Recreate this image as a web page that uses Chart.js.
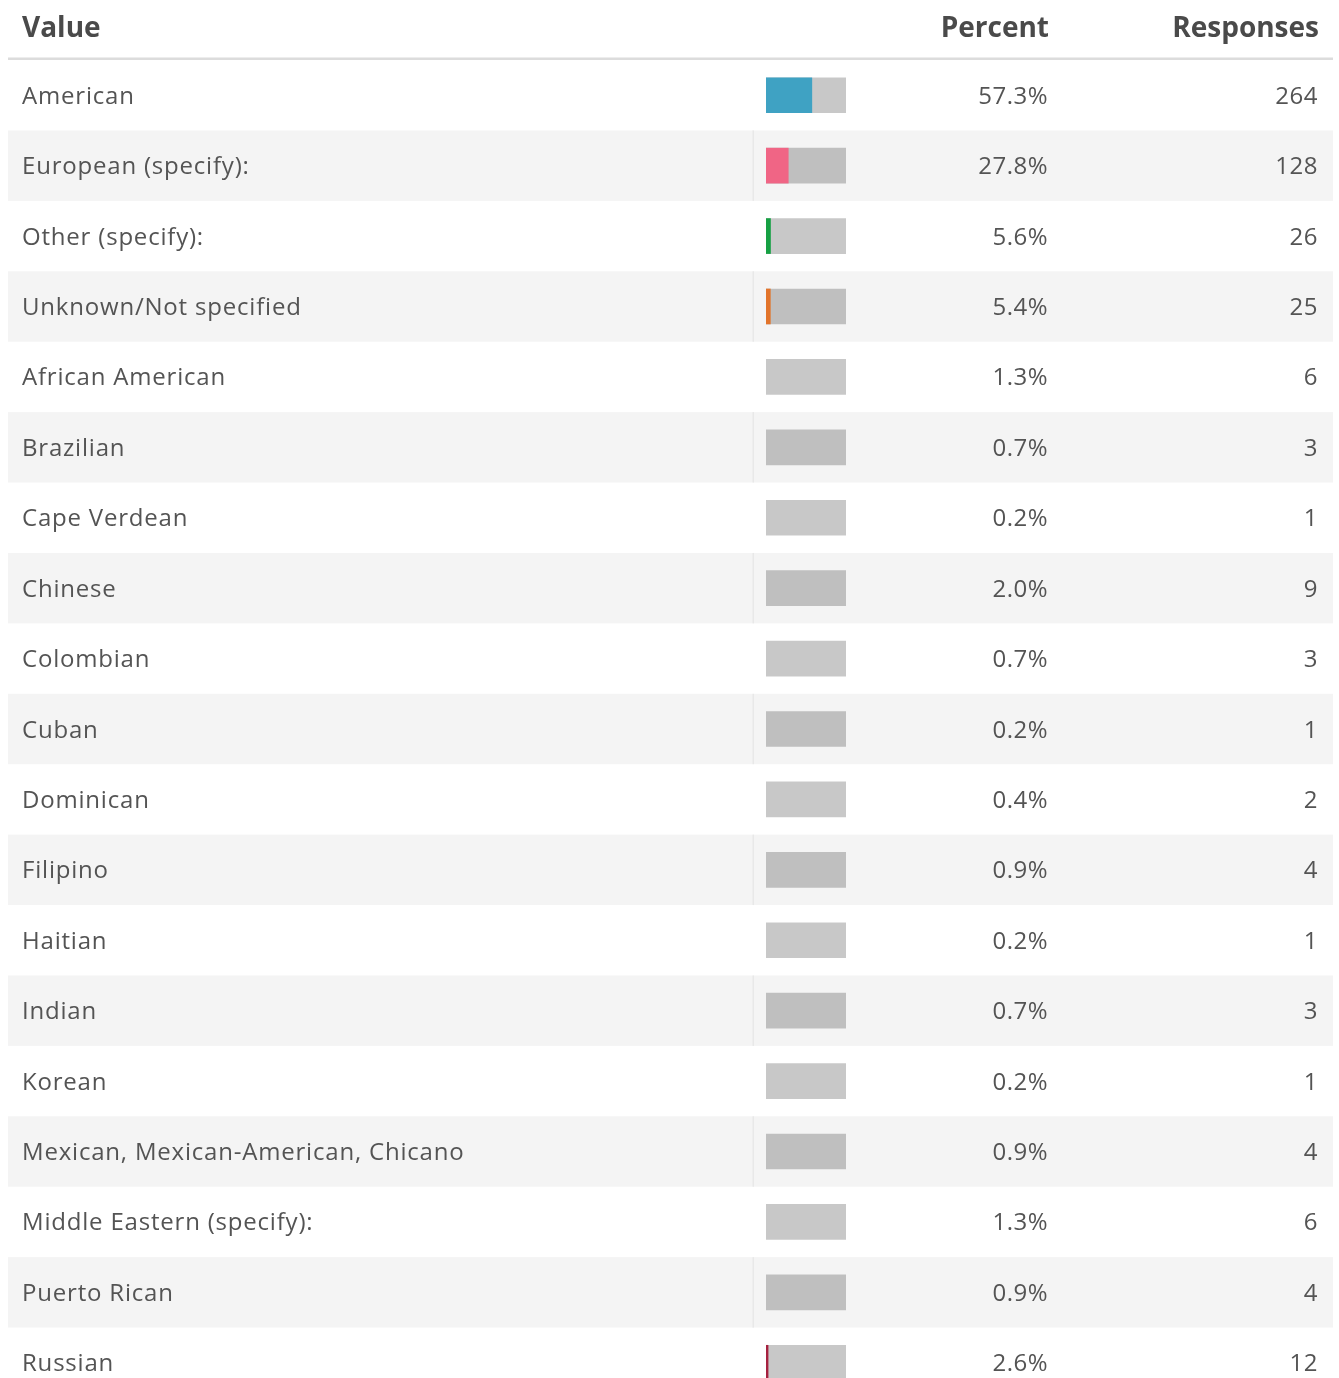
<!DOCTYPE html>
<html>
<head>
<meta charset="utf-8">
<script src="https://cdn.jsdelivr.net/npm/chart.js@4"></script>
<style>
  html, body { margin: 0; padding: 0; background: #fff; overflow: hidden; }
  canvas { display: block; }
</style>
</head>
<body>
<canvas id="ethnicityChart" width="1339" height="1398"></canvas>
<script>
const categories = [
  "American",
  "European (specify):",
  "Other (specify):",
  "Unknown/Not specified",
  "African American",
  "Brazilian",
  "Cape Verdean",
  "Chinese",
  "Colombian",
  "Cuban",
  "Dominican",
  "Filipino",
  "Haitian",
  "Indian",
  "Korean",
  "Mexican, Mexican-American, Chicano",
  "Middle Eastern (specify):",
  "Puerto Rican",
  "Russian"
]
const percents = [57.3, 27.8, 5.6, 5.4, 1.3, 0.7, 0.2, 2.0, 0.7, 0.2, 0.4, 0.9, 0.2, 0.7, 0.2, 0.9, 1.3, 0.9, 2.6]
const responses = [264, 128, 26, 25, 6, 3, 1, 9, 3, 1, 2, 4, 1, 3, 1, 4, 6, 4, 12]
const barColors = [
  "#3fa2c3", "#f06585", "#16a043", "#e2742b",
  null, null, null, null, null, null, null, null, null, null, null, null, null, null,
  "#a5213f"
]
const trackMax = 100
const headers = ["Value", "Percent", "Responses"]

const tablePlugin = {
  id: "tablePlugin",
  beforeDatasetsDraw(chart) {
    const ctx = chart.ctx
    const y = chart.scales.y
    const rowH = y.getPixelForValue(1) - y.getPixelForValue(0)
    ctx.save()
    categories.forEach((c, i) => {
      const yc = y.getPixelForValue(i)
      if (i % 2 === 1) {
        ctx.fillStyle = "#f4f4f4"
        ctx.fillRect(8, yc - rowH / 2, 1325, rowH)
        ctx.fillStyle = "#e8e8e8"
        ctx.fillRect(752.5, yc - rowH / 2, 1.5, rowH)
      }
    })
    // header rule
    ctx.fillStyle = "#dcdcdc"
    ctx.fillRect(8, 57.5, 1325, 2.5)
    ctx.restore()
  },
  afterDatasetsDraw(chart) {
    const ctx = chart.ctx
    const y = chart.scales.y
    ctx.save()
    ctx.textBaseline = "alphabetic"

    ctx.fillStyle = "#4a4a4a"
    ctx.font = "bold 28px 'Open Sans'"
    ctx.letterSpacing = "0px"
    ctx.textAlign = "left"
    ctx.fillText(headers[0], 22, 37)
    ctx.textAlign = "right"
    ctx.fillText(headers[1], 1049, 37)
    ctx.fillText(headers[2], 1319, 37)

    ctx.fillStyle = "#545454"
    ctx.font = "24px 'Open Sans'"
    categories.forEach((c, i) => {
      const base = y.getPixelForValue(i) + 8.5
      ctx.letterSpacing = "0.8px"
      ctx.textAlign = "left"
      ctx.fillText(c, 22, base)
      ctx.letterSpacing = "0.5px"
      ctx.textAlign = "right"
      ctx.fillText(percents[i].toFixed(1) + "%", 1048, base)
      ctx.fillText(String(responses[i]), 1318, base)
    })
    ctx.restore()
  }
}

new Chart(document.getElementById("ethnicityChart").getContext("2d"), {
  type: "bar",
  data: {
    labels: categories,
    datasets: [
      {
        label: "Percent",
        data: percents,
        backgroundColor: barColors.map(c => c || "rgba(0,0,0,0)"),
        barThickness: 35,
        grouped: false,
        order: 0
      },
      {
        label: "Track",
        data: categories.map(() => trackMax),
        backgroundColor: "rgba(0,0,0,0.215)",
        barThickness: 35,
        grouped: false,
        order: 1
      }
    ]
  },
  options: {
    indexAxis: "y",
    responsive: false,
    animation: false,
    layout: {
      padding: { left: 766, right: 493, top: 60, bottom: 0 }
    },
    plugins: {
      legend: { display: false },
      tooltip: { enabled: false }
    },
    scales: {
      x: { display: false, min: 0, max: trackMax },
      y: { display: false }
    }
  },
  plugins: [tablePlugin]
})
</script>
</body>
</html>
